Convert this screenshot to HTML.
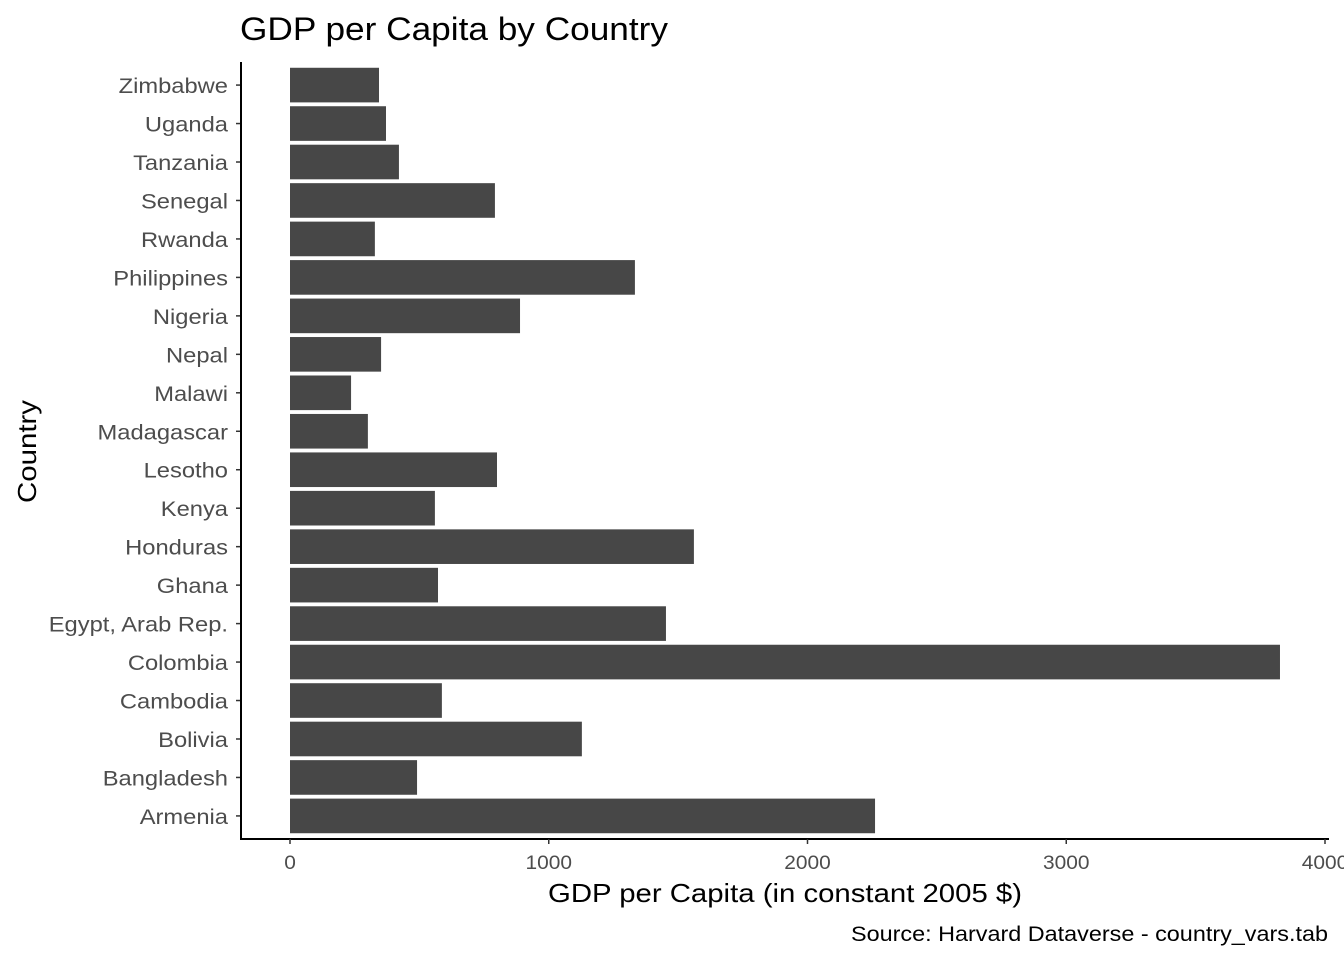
<!DOCTYPE html>
<html><head><meta charset="utf-8"><style>
html,body{margin:0;padding:0;background:#fff;}
svg{display:block;font-family:"Liberation Sans",Arial,sans-serif;}
</style></head><body>
<svg id="chart" width="1344" height="960" viewBox="0 0 1344 960">
<text x="240" y="40" font-size="32" fill="#000" textLength="428" lengthAdjust="spacingAndGlyphs">GDP per Capita by Country</text>
<g id="bars"></g>
<g id="yaxis"></g>
<g id="xaxis"></g>
<text x="548" y="902" font-size="26" fill="#000" textLength="474" lengthAdjust="spacingAndGlyphs">GDP per Capita (in constant 2005 $)</text>
<text transform="translate(36,503) rotate(-90)" font-size="26" fill="#000" textLength="103" lengthAdjust="spacingAndGlyphs">Country</text>
<text x="851" y="941" font-size="21" fill="#000" textLength="477" lengthAdjust="spacingAndGlyphs">Source: Harvard Dataverse - country_vars.tab</text>
</svg>
<script>
const countries = ["Armenia","Bangladesh","Bolivia","Cambodia","Colombia","Egypt, Arab Rep.","Ghana","Honduras","Kenya","Lesotho","Madagascar","Malawi","Nepal","Nigeria","Philippines","Rwanda","Senegal","Tanzania","Uganda","Zimbabwe"];
const gdp = [2261,491,1128,587,3826,1453,572,1561,560,800,301,236,352,889,1333,328,792,421,371,344];
const xTicks = [0,1000,2000,3000,4000];
const NS="http://www.w3.org/2000/svg";
const x0=290, xk=(1325-290)/4000;
const X=v=>x0+v*xk;
const panelTop=62, panelBottom=839, nCat=countries.length;
const step=(panelBottom-panelTop)/(nCat+0.2);
const Y=i=>panelBottom-(0.6+i)*step;
const bars=document.getElementById('bars'), ya=document.getElementById('yaxis'), xa=document.getElementById('xaxis');
function mk(t,a,p){const e=document.createElementNS(NS,t);for(const k in a)e.setAttribute(k,a[k]);p.appendChild(e);return e;}
countries.forEach((c,i)=>{
  const cy=Y(i), h=step*0.9;
  const r=mk('rect',{x:X(0),y:cy-h/2,width:X(gdp[i])-X(0),height:h,fill:'#474747'},bars);
  
  
  const tk=mk('line',{x1:236,x2:241,y1:cy,y2:cy,stroke:'#333','stroke-width':1.5},ya);
  
  
  const t=mk('text',{x:0,y:0,'font-size':21,'text-anchor':'end',fill:'#4d4d4d',transform:`translate(228,${cy+8}) scale(1.13,1)`},ya);
  t.textContent=c;
  
  
});
const yl=mk('line',{x1:241,x2:241,y1:panelTop,y2:panelBottom+1,stroke:'#000','stroke-width':2},ya);


const xl=mk('line',{x1:240,x2:1329,y1:panelBottom,y2:panelBottom,stroke:'#000','stroke-width':2},xa);


xTicks.forEach(v=>{
  const tk=mk('line',{x1:X(v),x2:X(v),y1:panelBottom,y2:panelBottom+5,stroke:'#333','stroke-width':1.5},xa);
  
  
  const t=mk('text',{x:0,y:0,'font-size':19,'text-anchor':'middle',fill:'#4d4d4d',transform:`translate(${X(v)},869) scale(1.1,1)`},xa);
  t.textContent=v;
  
  
});
</script>
</body></html>
